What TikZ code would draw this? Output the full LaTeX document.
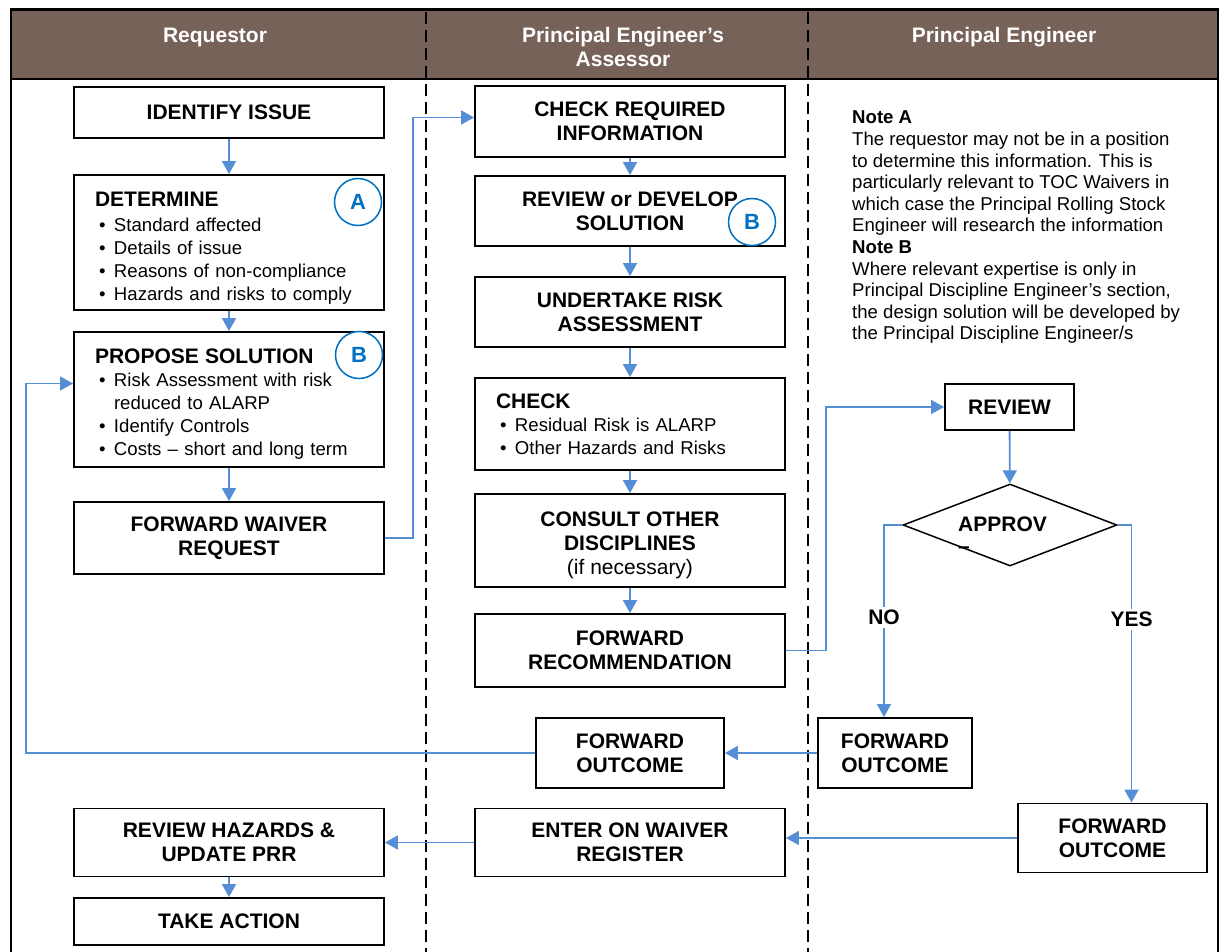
\documentclass[tikz,border=0pt]{standalone}
\usepackage{fontspec}
\setmainfont{Liberation Sans}
\usetikzlibrary{arrows.meta,shapes.geometric}

\definecolor{hdrbrown}{RGB}{119,98,89}
\definecolor{flowblue}{RGB}{85,142,213}
\definecolor{markblue}{RGB}{0,112,192}

\newcommand\boxfont{\fontsize{21}{24}\selectfont\bfseries}
\newcommand\itemfont{\fontsize{18.6}{23}\selectfont}
\newcommand\notefont{\fontsize{18.6}{21.6}\selectfont}
\newcommand\bul{\hspace*{4pt}\makebox[15pt][l]{\textbullet}}

\tikzset{
  stepbox/.style 2 args={draw, line width=1.9pt, fill=white, inner sep=0pt, align=center, font=\boxfont, minimum width=#1pt, minimum height=#2pt},
  listbox/.style={draw, line width=1.9pt, fill=white, inner xsep=21pt, inner ysep=0pt, align=left, font=\itemfont, text width=268pt, minimum height=#1pt},
  decision/.style={diamond, draw, line width=1.5pt, fill=white, aspect=2.6, inner sep=0pt, minimum width=214pt, minimum height=82pt},
  notemark/.style={circle, draw=markblue, line width=1.5pt, fill=white, minimum size=47pt, inner sep=0pt, text=markblue, font=\fontsize{22}{22}\selectfont\bfseries},
  hdrtext/.style={text=white, align=center, font=\boxfont},
  ynlabel/.style={fill=white, inner sep=3pt, font=\boxfont},
  flow/.style={draw=flowblue, line width=1.8pt, -{Triangle[length=13pt,width=14pt]}},
  lane/.style={line width=1.5pt, dash pattern=on 12pt off 6pt}
}

\begin{document}
\begin{tikzpicture}[x=1pt,y=-1pt]
\useasboundingbox (0,0) rectangle (1224,952);

% header and frame
\fill[hdrbrown] (11,10) rectangle (1218,79);
\draw[lane] (426,12) -- (426,952);
\draw[lane] (808,12) -- (808,952);
\draw[line width=1.5pt] (11,79) -- (1218,79);
\draw[line width=1.6pt] (11,10) -- (11,952);
\draw[line width=1.6pt] (1218,10) -- (1218,952);
\draw[line width=3pt] (10,10) -- (1219,10);
\node[hdrtext] (hreq) at (215,37) {Requestor};
\node[hdrtext] (hass) at (623,47) {Principal Engineer’s\\Assessor};
\node[hdrtext] (hpe) at (1004,37) {Principal Engineer};

% requestor
\node[stepbox={310}{51}] (idiss) at (229,112.5) {IDENTIFY ISSUE};
\node[listbox=135] (determ) at (229,242.5) {{\boxfont\rule{0pt}{25pt}DETERMINE}\\[2pt]
\bul Standard affected\\
\bul Details of issue\\
\bul Reasons of non-compliance\\
\bul Hazards and risks to comply};
\node[listbox=135] (propose) at (229,399.5) {{\boxfont\rule{0pt}{24pt}PROPOSE SOLUTION}\\
\bul Risk Assessment with risk\\
\hspace*{19pt}reduced to ALARP\\
\bul Identify Controls\\
\bul Costs – short and long term};
\node[stepbox={310}{72}] (fwdreq) at (229,538) {FORWARD WAIVER\\REQUEST};
\node[stepbox={310}{68}] (revhaz) at (229,842.5) {REVIEW HAZARDS \&\\UPDATE PRR};
\node[stepbox={310}{47}] (takeact) at (229,921.5) {TAKE ACTION};
\node[notemark] (marka) at (358,202) {A};
\node[notemark] (markb) at (359,355) {B};

% assessor
\node[stepbox={310}{71}] (chkreq) at (630,121.5) {CHECK REQUIRED\\INFORMATION};
\node[stepbox={310}{70}] (revdev) at (630,211) {REVIEW or DEVELOP\\SOLUTION};
\node[stepbox={310}{70}] (undert) at (630,312) {UNDERTAKE RISK\\ASSESSMENT};
\node[listbox=92] (check) at (630,424) {{\boxfont CHECK}\\
\bul Residual Risk is ALARP\\
\bul Other Hazards and Risks};
\node[stepbox={310}{93}] (consult) at (630,540.5) {\rule{0pt}{25pt}CONSULT OTHER\\DISCIPLINES\\{\mdseries (if necessary)}};
\node[stepbox={310}{73}] (fwdrec) at (630,650.5) {FORWARD\\RECOMMENDATION};
\node[stepbox={188}{70}] (fo_a) at (630,753) {FORWARD\\OUTCOME};
\node[stepbox={310}{68}] (enter) at (630,842.5) {ENTER ON WAIVER\\REGISTER};
\node[notemark] (markb2) at (752,222) {B};

% principal engineer
\node[anchor=north west, inner sep=0pt, align=left, font=\notefont] (notes) at (852,111) {{\bfseries Note A}\\
The requestor may not be in a position\\
to determine this information. This is\\
particularly relevant to TOC Waivers in\\
which case the Principal Rolling Stock\\
Engineer will research the information\\
{\bfseries Note B}\\
Where relevant expertise is only in\\
Principal Discipline Engineer’s section,\\
the design solution will be developed by\\
the Principal Discipline Engineer/s};
\node[stepbox={129}{46}] (review) at (1009.5,407) {REVIEW};
\node[decision] (approve) at (1010,525) {};
\node[anchor=north west, inner sep=0pt, align=left, font=\boxfont] (approvetxt) at (958,517) {APPROV\\[-2pt]–};
\node[stepbox={154}{70}] (fo_no) at (895,753) {FORWARD\\OUTCOME};
\node[stepbox={189}{69}] (fo_yes) at (1112.5,838) {FORWARD\\OUTCOME};

% connectors
\draw[flow] (idiss) -- (determ);
\draw[flow] (determ) -- (propose);
\draw[flow] (propose) -- (fwdreq);
\draw[flow] (revhaz) -- (takeact);
\draw[flow] (fwdreq.east) -- ++(28,0) |- ([yshift=4pt]chkreq.west);
\draw[flow] (chkreq) -- (revdev);
\draw[flow] (revdev) -- (undert);
\draw[flow] (undert) -- (check);
\draw[flow] (check) -- (consult);
\draw[flow] (consult) -- (fwdrec);
\draw[flow] (fwdrec.east) -- ++(40,0) |- (review.west);
\draw[flow] (review) -- (approve);
\draw[flow] (approve.west) -| node[ynlabel, pos=0.74] (lblno) {NO} ([xshift=-11pt]fo_no.north);
\draw[flow] (approve.east) -| node[ynlabel, pos=0.67] (lblyes) {YES} ([xshift=19pt]fo_yes.north);
\draw[flow] (fo_no) -- (fo_a);
\draw[flow] (fo_a.west) -| ([xshift=-47pt,yshift=16pt]propose.west) -- ([yshift=16pt]propose.west);
\draw[flow] (fo_yes.west) -- (fo_yes.west -| enter.east);
\draw[flow] (enter) -- (revhaz);
\end{tikzpicture}
\end{document}
